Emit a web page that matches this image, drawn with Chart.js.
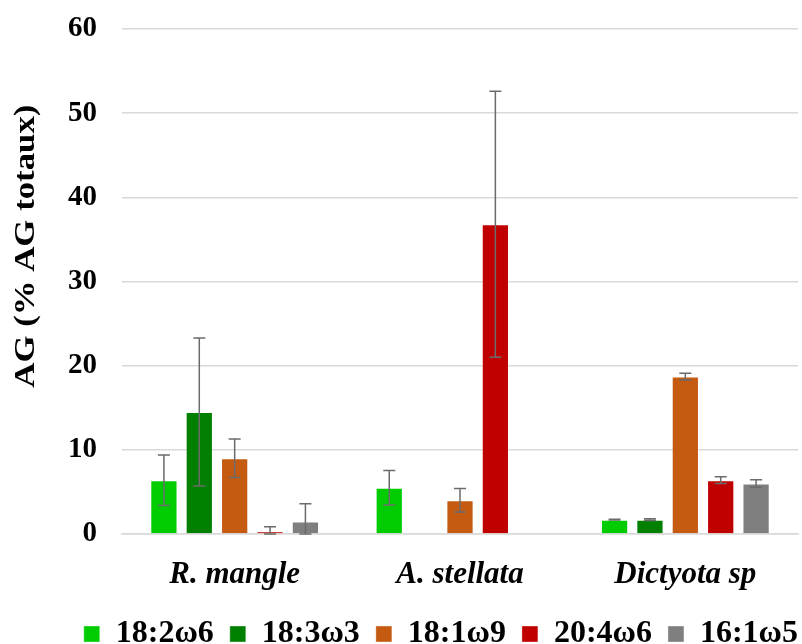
<!DOCTYPE html>
<html>
<head>
<meta charset="utf-8">
<script src="https://cdn.jsdelivr.net/npm/chart.js@4.4.0/dist/chart.umd.min.js"></script>
<style>
  html, body { margin: 0; padding: 0; background: #fff; }
  #wrap { width: 802px; height: 644px; }
</style>
</head>
<body>
<div id="wrap"><canvas id="chart" width="802" height="644"></canvas></div>
<script>
// Espèces (catégories)
const species = ['R. mangle', 'A. stellata', 'Dictyota sp'];

// Acides gras
const acidNames = ['18:2ω6', '18:3ω3', '18:1ω9', '20:4ω6', '16:1ω5'];
const acidColors = ['#00cc00', '#007f00', '#c55a11', '#c00000', '#7f7f7f'];

// Moyennes (% AG totaux)
const ag18_2w6 = [6.4, 5.5, 1.7];
const ag18_3w3 = [14.5, null, 1.7];
const ag18_1w9 = [9.0, 4.0, 18.7];
const ag20_4w6 = [0.3, 36.8, 6.4];
const ag16_1w5 = [1.5, null, 6.0];

// Écarts-types
const sd18_2w6 = [3.0, 2.05, 0.05];
const sd18_3w3 = [8.8, null, 0.1];
const sd18_1w9 = [2.3, 1.4, 0.4];
const sd20_4w6 = [0.55, 15.8, 0.4];
const sd16_1w5 = [2.1, null, 0.45];

const yTitleText = 'AG (% AG totaux)';

const means = [ag18_2w6, ag18_3w3, ag18_1w9, ag20_4w6, ag16_1w5];
const errors = [sd18_2w6, sd18_3w3, sd18_1w9, sd20_4w6, sd16_1w5];

const serif = "'Liberation Serif', 'Times New Roman', serif";

// Barres d'erreur dessinées après les barres
const errorBars = {
    id: 'errorBars',
    afterDatasetsDraw(chart) {
        const ctx = chart.ctx;
        const y = chart.scales.y;
        ctx.save();
        ctx.strokeStyle = '#6b6b6b';
        ctx.lineWidth = 1.5;
        chart.data.datasets.forEach((ds, di) => {
            const meta = chart.getDatasetMeta(di);
            meta.data.forEach((bar, i) => {
                const v = ds.data[i];
                const e = ds.errors[i];
                if (v == null || e == null) return;
                const top = y.getPixelForValue(v + e);
                const bot = y.getPixelForValue(Math.max(v - e, 0));
                ctx.beginPath();
                ctx.moveTo(bar.x, top);
                ctx.lineTo(bar.x, bot);
                ctx.moveTo(bar.x - 6, top);
                ctx.lineTo(bar.x + 6, top);
                ctx.moveTo(bar.x - 6, bot);
                ctx.lineTo(bar.x + 6, bot);
                ctx.stroke();
            });
        });
        ctx.restore();
    }
};

// Titre de l'axe Y (un peu étiré comme dans l'original)
const yTitle = {
    id: 'yTitle',
    afterDraw(chart) {
        const ctx = chart.ctx;
        const area = chart.chartArea;
        ctx.save();
        ctx.translate(27, area.top + (area.bottom - area.top) * 0.43);
        ctx.rotate(-Math.PI / 2);
        ctx.scale(1.2, 1);
        ctx.font = 'bold 29px ' + serif;
        ctx.fillStyle = '#000';
        ctx.textAlign = 'center';
        ctx.textBaseline = 'middle';
        ctx.fillText(yTitleText, 0, 0);
        ctx.restore();
    }
};

// Décale la légende vers la droite, comme dans l'original
const legendShift = {
    id: 'legendShift',
    afterLayout(chart) {
        if (!chart.legend) return;
        chart.legend.left += 16;
        chart.legend.right += 16;
    }
};

const datasets = acidNames.map((name, i) => ({
    label: name,
    data: means[i],
    errors: errors[i],
    backgroundColor: acidColors[i],
    borderColor: 'rgba(255,255,255,0.35)',
    borderWidth: 1,
    categoryPercentage: 0.785,
    barPercentage: 0.77
}));

new Chart(document.getElementById('chart'), {
    type: 'bar',
    data: { labels: species, datasets: datasets },
    plugins: [errorBars, yTitle, legendShift],
    options: {
        responsive: false,
        animation: false,
        layout: { padding: { top: 29, right: 4, left: 43, bottom: -16 } },
        plugins: {
            tooltip: { enabled: false },
            legend: {
                position: 'bottom',
                align: 'end',
                labels: {
                    color: '#000',
                    boxWidth: 16,
                    boxHeight: 16,
                    padding: 16,
                    font: { family: serif, size: 32, weight: 'bold' }
                }
            }
        },
        scales: {
            x: {
                grid: { display: false, drawTicks: false },
                border: { color: '#d9d9d9', width: 1.5 },
                ticks: {
                    color: '#000',
                    padding: 22,
                    font: { family: serif, size: 31, weight: 'bold', style: 'italic' }
                },
                afterFit(scale) { scale.height = 68; }
            },
            y: {
                min: 0,
                max: 60,
                ticks: {
                    stepSize: 10,
                    color: '#000',
                    padding: 25,
                    font: { family: serif, size: 29, weight: 'bold' }
                },
                grid: { color: '#d9d9d9', lineWidth: 1.5, drawTicks: false },
                border: { display: false },
                afterFit(scale) { scale.paddingTop = 0; scale.paddingBottom = 0; }
            }
        }
    }
});
</script>
</body>
</html>
